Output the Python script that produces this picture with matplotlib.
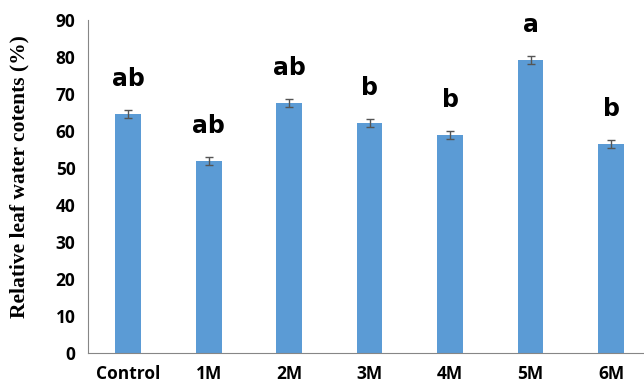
import matplotlib.pyplot as plt

# 처리구별 상대 엽수분 함량 데이터
treatments = ['Control', '1M', '2M', '3M', '4M', '5M', '6M']
water_content = [64.6, 51.8, 67.5, 62.2, 58.9, 79.2, 56.5]
errors = [1.1, 1.1, 1.1, 1.0, 1.2, 1.0, 1.1]
letters = ['ab', 'ab', 'ab', 'b', 'b', 'a', 'b']

fig = plt.figure(figsize=(6.44, 3.9), dpi=100)
ax = fig.add_axes([0.1366, 0.0949, 0.8634, 0.854])

x = range(len(treatments))
ax.bar(x, water_content, width=0.32, color='#5B9BD5',
       yerr=errors, capsize=3,
       error_kw=dict(ecolor='#555555', elinewidth=1, capthick=1))

# 유의성 문자 표시
for i, (v, lab) in enumerate(zip(water_content, letters)):
    ax.text(i, v + 9.5, lab, ha='center', va='center',
            fontsize=17, fontweight='bold', family='DejaVu Sans')

ax.set_xlim(-0.5, 6.41)
ax.set_ylim(0, 90)
ax.set_yticks(range(0, 91, 10))
ax.set_xticks(list(x))
ax.set_xticklabels(treatments)
ax.tick_params(length=0, pad=9, labelsize=12.5)
for lab in ax.get_xticklabels() + ax.get_yticklabels():
    lab.set_fontweight('bold')
    lab.set_family('Open Sans')

ax.set_ylabel('Relative leaf water cotents (%)', family='Liberation Serif',
              fontweight='bold', fontsize=15.5)
ax.yaxis.set_label_coords(-0.105, 0.53)

for side in ['top', 'right']:
    ax.spines[side].set_visible(False)
for side in ['left', 'bottom']:
    ax.spines[side].set_color('#868686')

fig.savefig('out.png', dpi=100)
